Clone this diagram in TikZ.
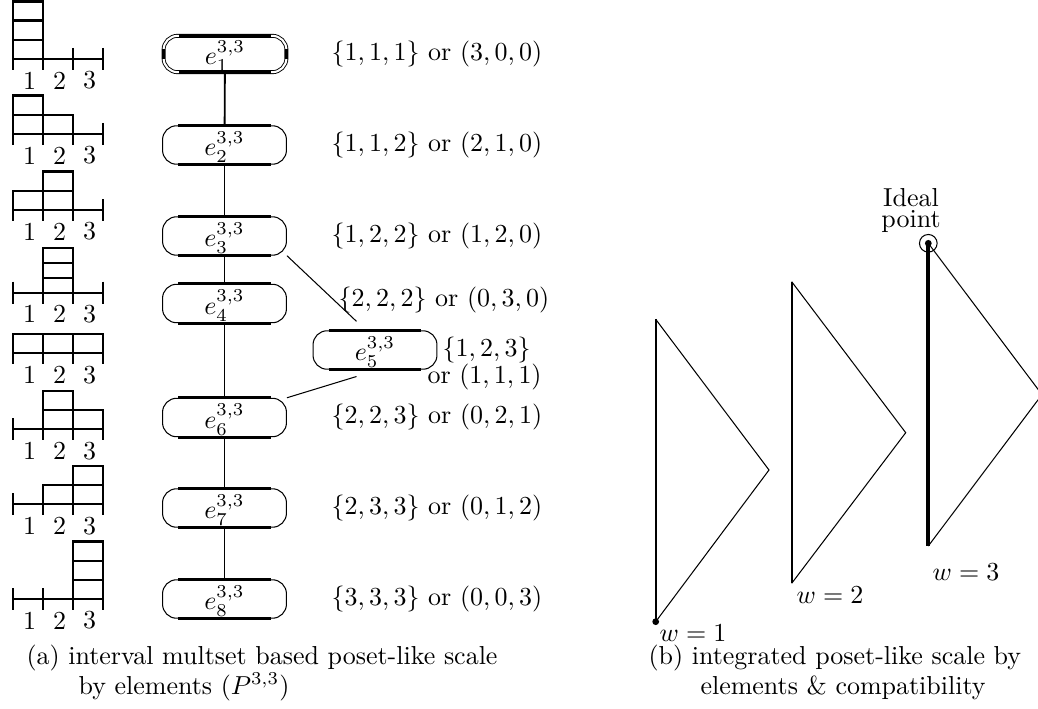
\documentclass[tikz,border=0pt]{standalone}
\usetikzlibrary{calc}
\newcommand\myYD[6]{% #1 axis y, #2 box height, #3 #4 #5 column counts, #6 id
  \draw[yb] (12.7,#1) -- (102.7,#1);
  \foreach \xx in {12.7,42.7,72.7,102.7} \draw[yb] (\xx,#1-11) -- (\xx,#1+11);
  \foreach \cc/\nn in {0/#3,1/#4,2/#5} {
    \ifnum\nn>0
      \foreach \k in {1,...,\nn} \draw[yb] (12.7+30*\cc,#1-#2*\k+#2) rectangle (42.7+30*\cc,#1-#2*\k);
    \fi}
  \foreach \cc/\t in {0/1,1/2,2/3} \node[lab] (yd#6n\t) at (29.5+30*\cc,#1+21.5) {\t};
}
\begin{document}
\begin{tikzpicture}[x=0.385pt,y=-0.385pt,
  yb/.style={line width=0.85pt},
  lab/.style={inner sep=0pt},
  enode/.style={draw, line width=0.4pt, rounded corners=5.4pt, minimum width=47.7pt, minimum height=14.8pt, inner sep=0pt, text height=10.6pt, text depth=2.4pt},
  vline/.style={line width=0.7pt},
  dline/.style={line width=0.4pt},
  thickedge/.style={line width=1.1pt},
  tri/.style={line width=0.4pt},
  trivert/.style={line width=0.9pt}]
\useasboundingbox (0,0) rectangle (1038,709);
\clip (0,0) rectangle (1038,709);

% Young-like diagrams
\myYD{59}{19.2}{3}{0}{0}{a}
\myYD{134}{19.2}{2}{1}{0}{b}
\myYD{210}{19.2}{1}{2}{0}{c}
\myYD{292.7}{15}{0}{3}{0}{d}
\myYD{353.3}{19.2}{1}{1}{1}{e}
\myYD{429.3}{19.2}{0}{2}{1}{f}
\myYD{504.3}{19.2}{0}{1}{2}{g}
\myYD{599}{19.2}{0}{0}{3}{h}

% element nodes
\node[enode, double, double distance=0.8pt, line width=0.35pt, minimum height=14pt, minimum width=47.3pt] (e1) at (225,54) {$e^{3,3}_1$};
\node[enode] (e2) at (224.5,145) {$e^{3,3}_2$};
\node[enode] (e3) at (224.5,236) {$e^{3,3}_3$};
\node[enode] (e4) at (224.5,303.5) {$e^{3,3}_4$};
\node[enode] (e5) at (375,350) {$e^{3,3}_5$};
\node[enode] (e6) at (224.5,417.5) {$e^{3,3}_6$};
\node[enode] (e7) at (224.5,508) {$e^{3,3}_7$};
\node[enode] (e8) at (224.5,599) {$e^{3,3}_8$};
\foreach \n in {e1,e2,e3,e4,e5,e6,e7,e8}
  \draw[thickedge] ([xshift=6.2pt]\n.north west) -- ([xshift=-6.2pt]\n.north east)
                   ([xshift=6.2pt]\n.south west) -- ([xshift=-6.2pt]\n.south east);
\draw[thickedge] ([yshift=2pt]e1.west) -- ([yshift=-2pt]e1.west)
                 ([yshift=2pt]e1.east) -- ([yshift=-2pt]e1.east);

% connectors
\draw[vline] (e1) -- (e2);
\draw[vline] (e2) -- (e3);
\draw[vline] (e3) -- (e4);
\draw[vline] (e4) -- (e6);
\draw[vline] (e6) -- (e7);
\draw[vline] (e7) -- (e8);
\draw[dline, shorten >=5pt] (e3.south east) -- ([xshift=-3.5pt]e5.north);
\draw[dline, shorten >=8.9pt] (e6.north east) -- ([xshift=1.4pt]e5.south);

% labels
\node[lab, anchor=west] (l1) at (331,54) {$\{1,1,1\}$ or $(3,0,0)$};
\node[lab, anchor=west] (l2) at (331,145) {$\{1,1,2\}$ or $(2,1,0)$};
\node[lab, anchor=west] (l3) at (331,236) {$\{1,2,2\}$ or $(1,2,0)$};
\node[lab, anchor=west] (l4) at (338,300) {$\{2,2,2\}$ or $(0,3,0)$};
\node[lab, anchor=west] (l5a) at (442,350) {$\{1,2,3\}$};
\node[lab, anchor=west] (l5b) at (427,377) {or $(1,1,1)$};
\node[lab, anchor=west] (l6) at (331,417.5) {$\{2,2,3\}$ or $(0,2,1)$};
\node[lab, anchor=west] (l7) at (331,508) {$\{2,3,3\}$ or $(0,1,2)$};
\node[lab, anchor=west] (l8) at (331,599) {$\{3,3,3\}$ or $(0,0,3)$};

% panel b
\coordinate (a1) at (655.7,319.3); \coordinate (b1) at (769,470); \coordinate (c1) at (655.7,621.7);
\coordinate (a2) at (791.7,281.7); \coordinate (b2) at (905.7,432.7); \coordinate (c2) at (791.7,583.3);
\coordinate (a3) at (928.3,243.3); \coordinate (b3) at (1042,394.6); \coordinate (c3) at (928.3,546);
\draw[tri] (a1) -- (b1) -- (c1);
\draw[trivert] (a1) -- (c1);
\draw[tri] (a2) -- (b2) -- (c2);
\draw[trivert] (a2) -- (c2);
\draw[tri] (a3) -- (b3) -- (c3);
\draw[line width=1.6pt] (a3) -- (c3);
\fill (c1) circle[radius=1.3pt];
\fill (a3) circle[radius=1.3pt];
\draw[line width=0.4pt] (a3) circle[radius=3.4pt];
\node[lab] (w1) at (693,633) {$w=1$};
\node[lab] (w2) at (830,595) {$w=2$};
\node[lab] (w3) at (966,572) {$w=3$};
\node[lab, align=center, anchor=south] (ideal) at (911,233) {Ideal\\[-4pt]point};

% captions
\node[lab, anchor=base west] (ca1) at (26,664) {(a) interval multset based poset-like scale};
\node[lab, anchor=base west] (ca2) at (78,694) {by elements ($P^{3,3}$)};
\node[lab, anchor=base west] (cb1) at (648,664) {(b) integrated poset-like scale by};
\node[lab, anchor=base west] (cb2) at (700,694) {elements \& compatibility};
\end{tikzpicture}
\end{document}
